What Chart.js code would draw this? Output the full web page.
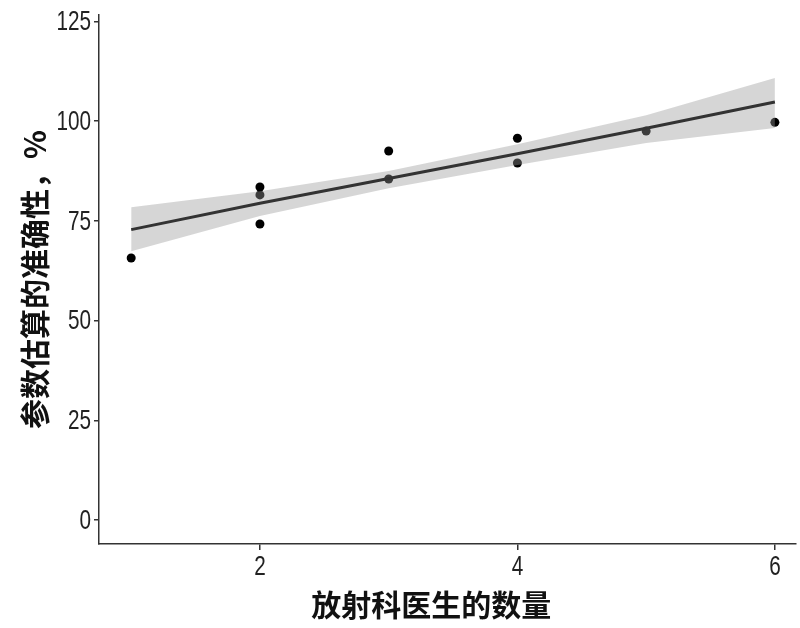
<!DOCTYPE html>
<html>
<head>
<meta charset="utf-8">
<script src="https://cdn.jsdelivr.net/npm/chart.js@4"></script>
<style>
  html, body { margin: 0; padding: 0; background: #fff; }
  #wrap { width: 800px; height: 628px; }
</style>
</head>
<body>
<div id="wrap"><canvas id="chart"></canvas></div>
<script>
// observed points
const physicians = [1, 2, 2, 2, 3, 3, 4, 4, 5, 6];
const accuracy = [65.7, 83.5, 81.5, 74.2, 92.5, 85.5, 95.7, 89.5, 97.5, 99.7];

// fitted line and confidence band
const fitX = [1, 2, 3, 4, 5, 6];
const fitY = [72.8, 79.4, 85.6, 91.8, 98.2, 104.8];
const bandUpper = [78.4, 82.4, 87.5, 94.2, 101.5, 110.8];
const bandLower = [67.4, 76.2, 83.2, 89.0, 94.5, 98.3];

const xTicks = [2, 4, 6];
const yTicks = [0, 25, 50, 75, 100, 125];

const xTitle = '放射科医生的数量';
const yTitle = '参数估算的准确性，%';

const pts = (xs, ys) => xs.map((x, i) => ({ x: x, y: ys[i] }));

const tickFont = "28px 'Liberation Sans', sans-serif";
const titleFont = "bold 30px 'Noto Sans CJK SC', sans-serif";
const squeeze = 0.74; // the original uses a condensed face

// tick labels and axis titles drawn by hand (condensed digits)
const axisText = {
    id: 'axisText',
    afterDraw(chart) {
        const ctx = chart.ctx;
        const area = chart.chartArea;
        const xs = chart.scales.x, ys = chart.scales.y;
        ctx.save();
        ctx.fillStyle = '#222';
        ctx.font = tickFont;
        ctx.textBaseline = 'middle';

        ctx.textAlign = 'right';
        yTicks.forEach(v => {
            ctx.save();
            ctx.translate(91, ys.getPixelForValue(v));
            ctx.scale(squeeze, 1);
            ctx.fillText(String(v), 0, 1);
            ctx.restore();
        });

        ctx.textAlign = 'center';
        xTicks.forEach(v => {
            ctx.save();
            ctx.translate(xs.getPixelForValue(v), 567);
            ctx.scale(squeeze, 1);
            ctx.fillText(String(v), 0, 0);
            ctx.restore();
        });

        ctx.fillStyle = '#111';
        ctx.font = titleFont;
        ctx.fillText(xTitle, (area.left + area.right) / 2 - 16, 605);
        ctx.translate(35, (area.top + area.bottom) / 2);
        ctx.rotate(-Math.PI / 2);
        ctx.fillText(yTitle, 0, 0);
        ctx.restore();
    }
};

new Chart(document.getElementById('chart').getContext('2d'), {
    type: 'scatter',
    data: {
        datasets: [
            {
                label: 'points',
                data: pts(physicians, accuracy),
                backgroundColor: '#000',
                borderWidth: 0,
                pointRadius: 4.5,
                order: 3
            },
            {
                type: 'line',
                label: 'upper',
                data: pts(fitX, bandUpper),
                borderWidth: 0,
                pointRadius: 0,
                fill: '+1',
                backgroundColor: 'rgba(153,153,153,0.4)',
                order: 2
            },
            {
                type: 'line',
                label: 'lower',
                data: pts(fitX, bandLower),
                borderWidth: 0,
                pointRadius: 0,
                fill: false,
                order: 2
            },
            {
                type: 'line',
                label: 'fit',
                data: pts(fitX, fitY),
                borderColor: '#333',
                borderWidth: 3,
                pointRadius: 0,
                fill: false,
                order: 1
            }
        ]
    },
    options: {
        responsive: true,
        maintainAspectRatio: false,
        animation: false,
        layout: { padding: { top: 15, right: 3, left: 0, bottom: 0 } },
        plugins: { legend: { display: false }, tooltip: { enabled: false } },
        scales: {
            x: {
                type: 'linear',
                min: 0.75,
                max: 6.16,
                afterBuildTicks: (s) => { s.ticks = xTicks.map(v => ({ value: v })); },
                afterFit: (s) => { s.height = 84; },
                grid: { drawOnChartArea: false, tickLength: 6, color: '#333', lineWidth: 1.5 },
                border: { display: true, color: '#333', width: 1.5 },
                ticks: { display: false }
            },
            y: {
                min: -6,
                max: 126.6,
                afterBuildTicks: (s) => { s.ticks = yTicks.map(v => ({ value: v })); },
                afterFit: (s) => { s.width = 99; },
                grid: { drawOnChartArea: false, tickLength: 5, color: '#333', lineWidth: 1.5 },
                border: { display: true, color: '#333', width: 1.5 },
                ticks: { display: false }
            }
        }
    },
    plugins: [axisText]
});
</script>
</body>
</html>
